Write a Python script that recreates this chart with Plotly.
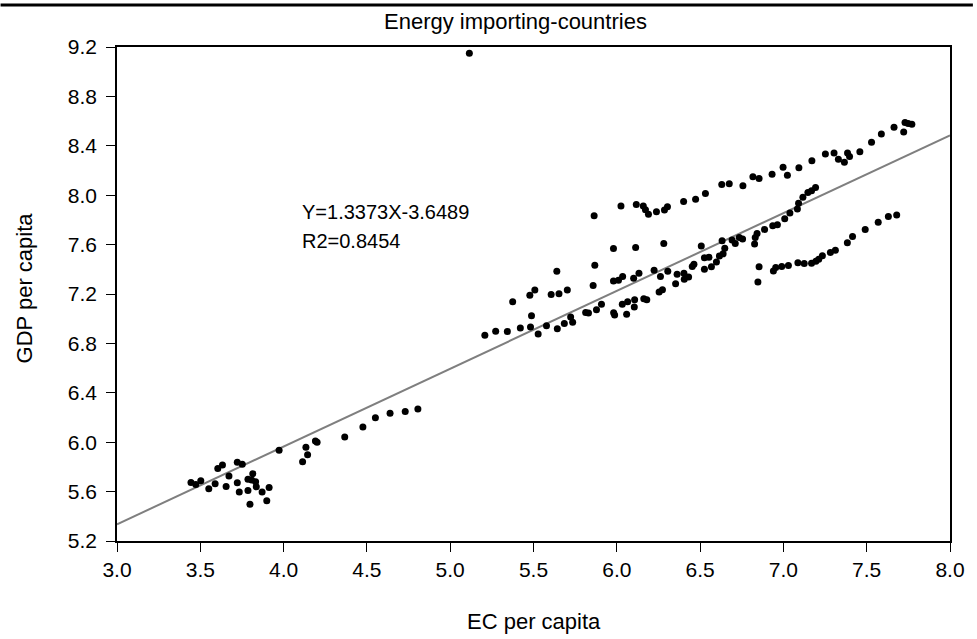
import plotly.graph_objects as go

# ---- data ----
ec_per_capita = [
    3.444, 3.473, 3.503, 3.551, 3.589, 3.605, 3.633, 3.655, 3.672, 3.722,
    3.752, 3.722, 3.734, 3.786, 3.786, 3.815, 3.808, 3.832, 3.836, 3.798,
    3.871, 3.899, 3.913, 3.973, 4.114, 4.134, 4.144, 4.191, 4.201, 4.367,
    4.476, 4.551, 4.639, 4.730, 4.806,
    5.115,
    5.208, 5.273, 5.343, 5.421, 5.482, 5.488, 5.528, 5.578, 5.643, 5.685,
    5.735, 5.723, 5.375, 5.478, 5.508, 5.606, 5.653, 5.703, 5.640, 5.858,
    5.868, 5.864, 5.813, 5.830, 5.878, 5.908, 5.981, 5.987, 6.033, 6.059,
    6.065, 6.105, 6.107, 6.162, 6.180, 6.254, 6.274, 5.980, 6.010, 6.035,
    6.101, 6.133, 6.224, 6.262, 6.306, 6.353, 6.362, 6.403, 6.405, 6.431,
    6.453, 6.463, 5.980, 6.113, 6.282, 6.025, 6.117, 6.159, 6.172, 6.190,
    6.238, 6.286, 6.304, 6.401, 6.473,
    6.532, 6.630, 6.675, 6.757, 6.817, 6.854, 6.932, 6.998, 7.024, 7.093,
    7.171, 7.252, 7.304, 7.330, 7.366, 7.385, 7.397, 7.459, 7.529, 7.588,
    7.664, 7.722, 7.730, 7.749, 7.771,
    6.507, 6.526, 6.526, 6.553, 6.568, 6.598, 6.616, 6.638, 6.648, 6.632,
    6.692, 6.711, 6.735, 6.755, 6.827, 6.831, 6.842, 6.887, 6.936, 6.964,
    7.008, 7.039, 7.084, 7.091, 7.117, 7.147, 7.169, 7.193,
    6.847, 6.854, 6.940, 6.954, 6.990, 7.030, 7.087, 7.125, 7.169, 7.195,
    7.212, 7.234, 7.282, 7.312, 7.384, 7.415, 7.491, 7.569, 7.630, 7.680,
]
gdp_per_capita = [
    5.674, 5.658, 5.688, 5.623, 5.663, 5.788, 5.815, 5.642, 5.726, 5.837,
    5.821, 5.672, 5.596, 5.609, 5.701, 5.745, 5.693, 5.680, 5.639, 5.498,
    5.596, 5.525, 5.634, 5.934, 5.842, 5.959, 5.899, 6.010, 5.999, 6.043,
    6.124, 6.197, 6.235, 6.249, 6.268,
    9.149,
    6.867, 6.899, 6.897, 6.924, 6.932, 7.024, 6.877, 6.943, 6.918, 6.962,
    6.972, 7.013, 7.138, 7.189, 7.233, 7.195, 7.203, 7.233, 7.384, 7.268,
    7.433, 7.834, 7.051, 7.046, 7.073, 7.116, 7.048, 7.029, 7.116, 7.037,
    7.138, 7.094, 7.154, 7.162, 7.154, 7.216, 7.235, 7.306, 7.311, 7.341,
    7.328, 7.368, 7.393, 7.341, 7.384, 7.284, 7.360, 7.368, 7.319, 7.338,
    7.422, 7.441, 7.568, 7.577, 7.609, 7.913, 7.924, 7.913, 7.883, 7.845,
    7.867, 7.880, 7.907, 7.948, 7.967,
    8.013, 8.086, 8.092, 8.076, 8.149, 8.135, 8.170, 8.227, 8.162, 8.222,
    8.279, 8.333, 8.341, 8.292, 8.267, 8.341, 8.314, 8.352, 8.428, 8.495,
    8.550, 8.511, 8.588, 8.580, 8.574,
    7.588, 7.401, 7.493, 7.498, 7.420, 7.460, 7.507, 7.525, 7.571, 7.631,
    7.637, 7.609, 7.658, 7.645, 7.604, 7.658, 7.690, 7.723, 7.753, 7.761,
    7.810, 7.856, 7.889, 7.934, 7.983, 8.021, 8.037, 8.062,
    7.298, 7.420, 7.387, 7.414, 7.422, 7.430, 7.454, 7.446, 7.450, 7.466,
    7.482, 7.509, 7.536, 7.555, 7.615, 7.666, 7.723, 7.780, 7.828, 7.840,
]

# drawn fitted line (as it appears in the picture)
fit_slope = 0.630
fit_intercept = 3.445

x_range = [3.0, 8.0]
y_range = [5.2, 9.2]
x_ticks = [3.0, 3.5, 4.0, 4.5, 5.0, 5.5, 6.0, 6.5, 7.0, 7.5, 8.0]
y_ticks = [5.2, 5.6, 6.0, 6.4, 6.8, 7.2, 7.6, 8.0, 8.4, 8.8, 9.2]

title_text = "Energy importing-countries"
x_title = "EC per capita"
y_title = "GDP per capita"
equation_text = "Y=1.3373X-3.6489"
r2_text = "R2=0.8454"

FONT = "Liberation Sans, Arial, sans-serif"

fit_x = x_range
fit_y = [fit_slope * v + fit_intercept for v in fit_x]

fig = go.Figure()
fig.add_trace(go.Scatter(
    x=fit_x, y=fit_y, mode="lines",
    line=dict(color="#7f7f7f", width=2),
    hoverinfo="skip", showlegend=False,
))
fig.add_trace(go.Scatter(
    x=ec_per_capita, y=gdp_per_capita, mode="markers",
    marker=dict(color="black", size=7, line=dict(width=0)),
    showlegend=False,
))

W, H = 977, 639
L, R, T, B = 117, 23, 47, 98
pw, ph = W - L - R, H - T - B

axis_common = dict(
    showgrid=False, zeroline=False, showline=True, linecolor="black",
    linewidth=1.5, mirror=True, ticks="outside", ticklen=9, tickwidth=1,
    tickcolor="black", tickfont=dict(family=FONT, size=21, color="black"),
)

fig.update_layout(
    width=W, height=H,
    margin=dict(l=L, r=R, t=T, b=B),
    paper_bgcolor="white", plot_bgcolor="white",
    xaxis=dict(range=x_range, tickvals=x_ticks,
               ticktext=[f"{v:.1f}" for v in x_ticks], **axis_common),
    yaxis=dict(range=y_range, tickvals=y_ticks,
               ticktext=[f"{v:.1f}" for v in y_ticks],
               ticklabelstandoff=5, **axis_common),
    font=dict(family=FONT, color="black"),
    annotations=[
        dict(text=title_text, xref="paper", yref="paper",
             x=(517 - L) / pw, y=(H - B - 21) / ph, showarrow=False,
             xanchor="center", yanchor="middle",
             font=dict(family=FONT, size=22, color="black")),
        dict(text=x_title, xref="paper", yref="paper",
             x=(536 - L) / pw, y=(H - B - 621) / ph, showarrow=False,
             xanchor="center", yanchor="middle",
             font=dict(family=FONT, size=22, color="black")),
        dict(text=y_title, xref="paper", yref="paper", textangle=-90,
             x=(24 - L) / pw, y=(H - B - 288) / ph, showarrow=False,
             xanchor="center", yanchor="middle",
             font=dict(family=FONT, size=22, color="black")),
        dict(text=equation_text, xref="x", yref="y", x=4.10, y=7.86,
             showarrow=False, xanchor="left", yanchor="middle",
             font=dict(family=FONT, size=20, color="black")),
        dict(text=r2_text, xref="x", yref="y", x=4.10, y=7.63,
             showarrow=False, xanchor="left", yanchor="middle",
             font=dict(family=FONT, size=20, color="black")),
    ],
    shapes=[
        dict(type="line", xref="paper", yref="paper",
             x0=-L / pw, x1=(W - L) / pw,
             y0=(H - B - 5) / ph, y1=(H - B - 5) / ph,
             line=dict(color="black", width=3)),
    ],
)

fig.write_html("out.html")
